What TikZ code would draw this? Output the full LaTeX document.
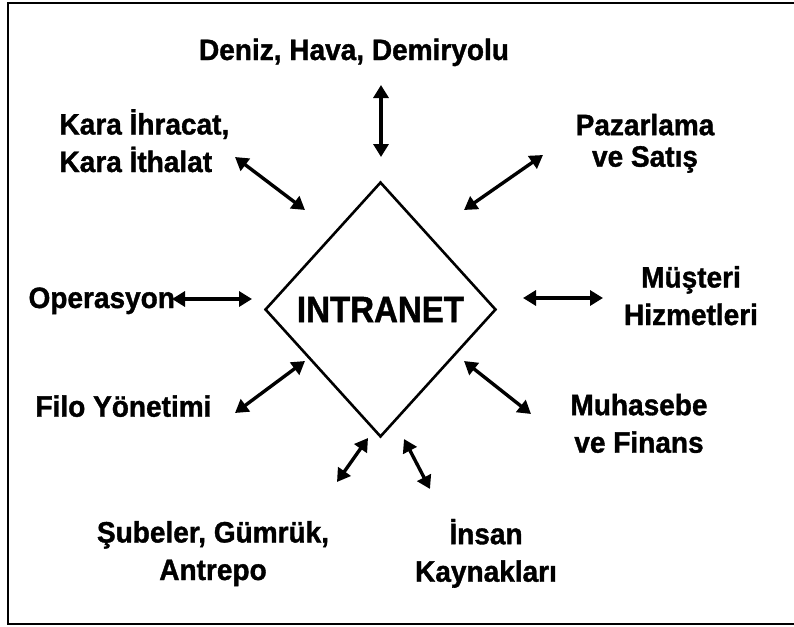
\documentclass[tikz,border=0pt]{standalone}
\usepackage{fontspec}
\setmainfont{Liberation Sans}[FakeStretch=0.95, FakeBold=1.2]
\newfontfamily\netfont{Liberation Sans}[FakeStretch=0.905, FakeBold=1.2]
\usetikzlibrary{arrows.meta,shapes.geometric}

\begin{document}
\begin{tikzpicture}[x=1pt, y=-1pt, >={Triangle[length=13pt,width=15pt]},
  lbl/.style={font=\fontsize{29.5}{37.5}\selectfont\bfseries},
  link/.style={<->, line width=3.4pt}]
  \useasboundingbox (0,0) rectangle (794,626);
  % frame (right side runs off the page)
  \draw[line width=2.4pt] (800,3.3) -- (7.7,3.3) -- (7.7,623.7) -- (800,623.7);
  % centre
  \node[draw, diamond, line width=2.6pt, minimum width=231pt, minimum height=255pt,
    inner sep=0pt, font=\netfont\fontsize{36.5}{40}\selectfont\bfseries] (net) at (380.5,309.5) {INTRANET};
  % departments
  \node[lbl, anchor=base] (deniz) at (354,60) {Deniz, Hava, Demiryolu};
  \node[lbl, align=left, anchor=base west] (kara) at (56,172) {Kara İhracat,\\Kara İthalat};
  \node[lbl, align=center, anchor=base] (pazar) at (645,166.7) {Pazarlama\\[-6pt]ve Satış};
  \node[lbl, anchor=base west] (oper) at (25,308) {Operasyon};
  \node[lbl, align=center, anchor=base] (musteri) at (691,325) {Müşteri\\Hizmetleri};
  \node[lbl, anchor=base west] (filo) at (32,416.7) {Filo Yönetimi};
  \node[lbl, align=center, anchor=base] (muhasebe) at (639,452.7) {Muhasebe\\ve Finans};
  \node[lbl, align=center, anchor=base] (sube) at (213,580) {Şubeler, Gümrük,\\Antrepo};
  \node[lbl, align=center, anchor=base] (insan) at (486,581.7) {İnsan\\Kaynakları};
  % links
  \foreach \n/\xa/\ya/\xb/\yb in {d/381/85/381/157, k/235/157/305/210, p/543/155/464/210,
      o/172/299/252/299, m/523/298/603/298, f/235/413/305/361, h/464/361/531/414,
      s/337/482/368/438, i/404/439/430/489}
  {
    \coordinate (\n a) at (\xa,\ya);
    \coordinate (\n b) at (\xb,\yb);
    \draw[link] (\n a) -- (\n b);
  }
\end{tikzpicture}
\end{document}
